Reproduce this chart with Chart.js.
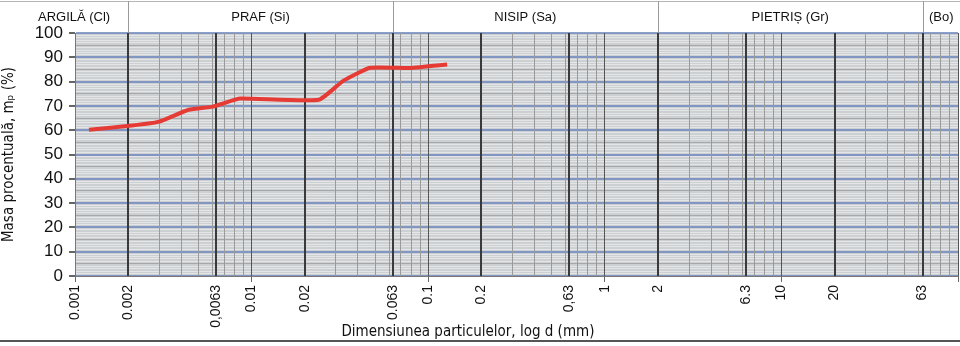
<!DOCTYPE html>
<html>
<head>
<meta charset="utf-8">
<script src="https://cdn.jsdelivr.net/npm/chart.js@4.4.1/dist/chart.umd.min.js"></script>
<style>
  html, body { margin: 0; padding: 0; background: #fff; }
  #wrap { width: 960px; height: 346px; position: relative; }
</style>
</head>
<body>
<div id="wrap"><canvas id="granChart"></canvas></div>
<script>
// Curba granulometrica: diametre (mm) si mase procentuale (%)
const diameters = [0.0012, 0.0021, 0.003, 0.0044, 0.006, 0.0069, 0.0086, 0.024, 0.033, 0.047, 0.079, 0.128];
const passing = [60.2, 61.9, 63.5, 68.4, 69.7, 71, 73, 72.5, 80.3, 85.7, 85.6, 87];

// Etichete axe
const xTickValues = [0.001, 0.002, 0.0063, 0.01, 0.02, 0.063, 0.1, 0.2, 0.63, 1, 2, 6.3, 10, 20, 63];
const xTickLabels = ['0.001', '0.002', '0,0063', '0.01', '0.02', '0.063', '0.1', '0.2', '0,63', '1', '2', '6.3', '10', '20', '63'];
const yTickLabels = [0, 10, 20, 30, 40, 50, 60, 70, 80, 90, 100];

// Fractiuni
const fractionNames = ['ARGILĂ (Cl)', 'PRAF (Si)', 'NISIP (Sa)', 'PIETRIȘ (Gr)', '(Bo)'];
const fractionLimits = [0.002, 0.063, 2, 63];

const narrow = "'Liberation Sans Narrow', 'DejaVu Sans Condensed', sans-serif";
const sans = "'Liberation Sans', Arial, sans-serif";

const same = (a, b) => Math.abs(a - b) / b < 1e-6;
const labelIndex = v => xTickValues.findIndex(t => same(v, t));
const isDecade = v => Math.abs(Math.log10(v) - Math.round(Math.log10(v))) < 1e-6;

// fundal hartie + benzi de fractiuni
const paperPlugin = {
    id: 'paper',
    beforeDraw(chart) {
        const { ctx, chartArea: a } = chart;
        ctx.save();
        ctx.fillStyle = '#cdd0d3';
        ctx.fillRect(a.left, a.top, a.width, a.height);
        ctx.restore();
    },
    afterDraw(chart) {
        const { ctx, chartArea: a } = chart;
        const x = chart.scales.x;
        const edges = [a.left - 55, ...fractionLimits.map(v => x.getPixelForValue(v)), chart.width];
        ctx.save();
        ctx.strokeStyle = '#b5b5b5';
        ctx.lineWidth = 1;
        ctx.beginPath();
        ctx.moveTo(0, 1.5); ctx.lineTo(chart.width, 1.5);
        ctx.stroke();
        ctx.strokeStyle = '#9a9a9a';
        fractionLimits.forEach(v => {
            const px = Math.round(x.getPixelForValue(v)) + 0.5;
            ctx.beginPath();
            ctx.moveTo(px, 1); ctx.lineTo(px, a.top);
            ctx.stroke();
        });
        ctx.fillStyle = '#111';
        ctx.font = '13px ' + sans;
        ctx.textAlign = 'center';
        ctx.textBaseline = 'middle';
        fractionNames.forEach((name, i) => {
            ctx.fillText(name, (edges[i] + edges[i + 1]) / 2, 17);
        });
        // titlu axa X
        ctx.font = '15px ' + narrow;
        ctx.fillText('Dimensiunea particulelor, log d (mm)', a.left + a.width * 0.445, 332);
        // linia de jos a paginii
        ctx.strokeStyle = '#555';
        ctx.lineWidth = 2;
        ctx.beginPath();
        ctx.moveTo(0, 341); ctx.lineTo(chart.width, 341);
        ctx.stroke();
        ctx.restore();
    }
};

const granChart = new Chart(document.getElementById('granChart'), {
    type: 'line',
    data: {
        datasets: [{
            label: 'Masa procentuală',
            data: diameters.map((d, i) => ({ x: d, y: passing[i] })),
            borderColor: '#e63b35',
            borderWidth: 4,
            pointRadius: 0,
            tension: 0.15,
            fill: false
        }]
    },
    options: {
        responsive: true,
        maintainAspectRatio: false,
        animation: false,
        layout: { padding: { top: 33, right: 2, left: 0, bottom: 0 } },
        plugins: {
            legend: { display: false },
            tooltip: { enabled: false }
        },
        scales: {
            x: {
                type: 'logarithmic',
                min: 0.001,
                max: 100,
                afterBuildTicks: scale => {
                    const vals = [...xTickValues];
                    for (let e = -3; e <= 1; e++) {
                        for (let m = 1; m <= 9; m++) {
                            const v = m * Math.pow(10, e);
                            if (!vals.some(t => same(v, t))) vals.push(v);
                        }
                    }
                    vals.push(100);
                    vals.sort((a, b) => a - b);
                    scale.ticks = vals.map(v => ({ value: v }));
                },
                afterFit: scale => {
                    scale.height = 70;
                    scale.paddingLeft = 0;
                    scale.paddingRight = 0;
                },
                border: { color: '#777' },
                grid: {
                    z: -1,
                    color: c => {
                        const v = c.tick.value;
                        if (isDecade(v)) return '#555';
                        if (labelIndex(v) >= 0) return '#3a3a3a';
                        return '#9a9a9a';
                    },
                    lineWidth: c => (labelIndex(c.tick.value) >= 0 && !isDecade(c.tick.value)) ? 2 : 1,
                    tickColor: c => isDecade(c.tick.value) ? '#666' : 'transparent',
                    tickLength: 6
                },
                ticks: {
                    autoSkip: false,
                    minRotation: 90,
                    maxRotation: 90,
                    padding: 3,
                    color: '#111',
                    font: { family: sans, size: 14 },
                    callback: value => {
                        const i = labelIndex(value);
                        return i >= 0 ? xTickLabels[i] : '';
                    }
                }
            },
            y: {
                min: 0,
                max: 100,
                afterFit: scale => {
                    scale.width = 75;
                    scale.paddingTop = 0;
                    scale.paddingBottom = 0;
                },
                border: { color: '#777' },
                grid: {
                    z: -2,
                    color: c => {
                        const v = c.tick.value;
                        if (yTickLabels.includes(v)) return 'rgba(110,135,190,0.8)';
                        if (v % 5 === 0) return 'rgba(120,120,120,0.45)';
                        return 'rgba(255,255,255,0.45)';
                    },
                    lineWidth: c => yTickLabels.includes(c.tick.value) ? 2 : 1,
                    tickColor: c => yTickLabels.includes(c.tick.value) ? '#666' : 'transparent',
                    tickLength: 6
                },
                ticks: {
                    stepSize: 1,
                    autoSkip: false,
                    padding: 6,
                    color: '#111',
                    font: { family: sans, size: 17 },
                    callback: v => yTickLabels.includes(v) ? v : ''
                },
                title: {
                    display: true,
                    text: 'Masa procentuală, mₚ (%)',
                    color: '#111',
                    font: { family: narrow, size: 15 },
                    padding: { top: 0, bottom: 0 }
                }
            }
        }
    },
    plugins: [paperPlugin]
});
</script>
</body>
</html>
